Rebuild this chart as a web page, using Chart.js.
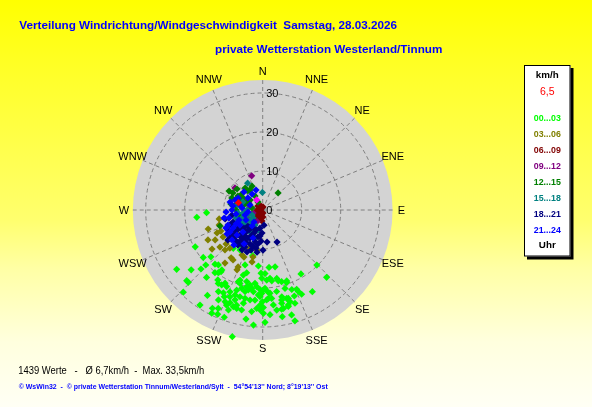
<!DOCTYPE html>
<html><head><meta charset="utf-8">
<script src="https://cdn.jsdelivr.net/npm/chart.js@4.4.1/dist/chart.umd.min.js"></script>
<style>html,body{margin:0;padding:0;background:#fff}canvas{display:block}</style>
</head><body>
<canvas id="c" width="592" height="407"></canvas>
<script>
// ---------- texts ----------
const titleText = 'Verteilung Windrichtung/Windgeschwindigkeit  Samstag, 28.03.2026';
const subtitleText = 'private Wetterstation Westerland/Tinnum';
const footerStats = '1439 Werte   -   \u00D8 6,7km/h  -  Max. 33,5km/h';
const footerCredit = '\u00A9 WsWin32  -  \u00A9 private Wetterstation Tinnum/Westerland/Sylt  -  54\u00B054\'13\'\' Nord; 8\u00B019\'13\'\' Ost';
const legendUnit = 'km/h';
const legendCurrent = '6,5';
const legendFooter = 'Uhr';

// ---------- axes ----------
const directionLabels = ['N','NNE','NE','ENE','E','ESE','SE','SSE','S','SSW','SW','WSW','W','WNW','NW','NNW'];
const ringTicks = [0, 10, 20, 30];
const outerSpeed = 33.3;

// ---------- series: [direction deg, speed km/h] ----------
const timeRanges = ['00...03','03...06','06...09','09...12','12...15','15...18','18...21','21...24'];
const rangeColors = ['#00ff00','#808000','#800000','#800080','#008000','#008080','#000080','#0000ff'];

const wind00_03 = [
[235.4,26.8],[231.4,19.5],[227.9,17.9],[221.4,18.5],[226,20.3],[218.9,18.1],[197.8,14.8],[192.4,12.0],[184.4,14.4],[173.7,14.8],
[167.7,14.9],[181.5,16.2],[177.9,16.3],[194.3,16.6],[196.6,17.4],[217.3,20.2],[215.3,19.7],[214,19.1],[226.3,21.9],[230.1,23.9],
[219.8,22.5],[212.7,21.3],[211.2,22.0],[208.7,21.9],[207.2,21.1],[205.2,21.7],[198.8,19.4],[197.2,19.7],[192.6,18.8],[189.6,19.5],
[186,18.9],[180.8,17.5],[176.7,18.0],[173.9,17.6],[172.7,18.3],[168.4,17.9],[165.2,19.0],[161.7,19.6],[159.9,21.7],[156.8,22.1],
[149.1,19.1],[135.5,19.8],[148.7,24.5],[227.1,26.6],[225.8,26.6],[208.5,23.8],[205.4,23.5],[201.8,22.6],[198,21.6],[195,20.8],
[192.2,21.4],[188,20.3],[184.5,19.7],[181.9,20.4],[179.5,20.5],[176.5,21.0],[175,21.4],[170.3,21.2],[167.6,22.8],[163.8,23.6],
[159.8,23.5],[156.4,22.8],[155.2,23.8],[224,29.3],[212.9,26.1],[206.2,25.7],[202.3,25.4],[199.4,25.2],[197.1,24.1],[194.7,23.0],
[191.3,23.1],[188,23.3],[184.9,23.2],[181.8,22.2],[180.2,23.5],[177.5,23.1],[174.2,22.8],[181.6,24.4],[179.6,25.0],[163.4,24.5],
[160.9,25.3],[168.5,24.4],[200.8,26.1],[196.9,25.9],[207.1,28.3],[204.3,27.7],[198.9,27.1],[194.8,26.1],[191.9,26.2],[186.2,26.2],
[179.6,26.5],[169.2,25.9],[164.6,27.9],[203.4,29.1],[165.1,25.6],[199.7,29.2],[188.7,28.3],[178.8,28.8],[184.6,29.6],[163.8,29.6],
[193.5,33.4],[263.7,17.0],[267.3,14.4],[241.4,19.7],[136.5,23.8],[217.5,12.4],[209.6,11.8],
[203.9,24.3],[191.8,20.1],[190.2,20.8],[186.5,21.1],[182.9,21.8],[180.7,21.4],[178.3,20.1],[167.6,18.6],[161.3,19.2],[164.1,20.9],
[168.1,23.6],[168.1,25.8],[169.6,27.8],[176,26.9],[181.5,25.6],[183.5,25.3],[191.7,24.4],[195.3,25.3],[206.3,29.5],[213.4,29.2],
[198,22.9],[200.7,23.8],[176.3,22.7],[173.6,24.5],[172,25.9],[164.8,23.5],[164.9,25.2],[214.3,18.6],[197.9,18.9]
];
const wind03_06 = [
[250.8,14.8],[251.1,11.8],[243.3,13.1],[243.3,12.0],[241.3,16.0],[237.8,14.4],[232.4,16.4],[229.1,14.5],[223.3,14.1],[227.2,12.8],
[220.7,12.9],[213.4,14.7],[215.4,16.7],[210.7,14.9],[203.2,16.7],[203.4,15.9],[204.7,12.7],[198.5,10.3],[188.1,10.4],[191.7,12.3],
[191.6,13.6],[258.4,11.4],[201.7,13.0],[235.8,12.3],[230.5,8.9]
];
const wind06_09 = [
[310.4,1.6],[337,1.1],[6,0.8],[282,1.2],[300,0.5],[247,1.3],[220,0.7],[174,0.8],[223,1.8],[199,1.4],
[178,1.8],[197,2.4],[184,2.8],[255,2.0],[220,2.7]
];
const wind09_12 = [
[342.1,9.2],[308.5,9.1],[206,3.3],[283.3,3.4],[299.5,5.2],[296,3.9],[252.8,2.6],[241.4,4.3]
];
const wind12_15 = [
[299.4,9.9],[299.8,8.8],[309.3,8.5],[304.7,6.8],[321.2,7.2],[322.3,6.2],[327.6,6.1],[336,6.7],[331.2,4.1],[329.6,2.4],
[280.7,8.3],[293.8,6.4],[285,5.0],[308.2,4.1],[270,6.8],[257.6,6.0],[263.2,4.3],[280.6,2.8],[42,5.9],[249.5,11.7],
[244.1,7.0],[231,6.5],[234.2,8.8],[299.5,7.3],[301.3,5.9],[280.6,7.0],[291.3,8.5],[292.7,4.6]
];
const wind15_18 = [
[330.7,7.9],[359,4.5],[242.1,6.6],[229.7,5.9],[231.8,4.1],[207.2,4.3],[193.2,5.3],[253.3,7.1],[245,3.0],[270,4.0],
[261.3,5.1],[240.9,8.4],[210,6.5],[195.4,7.4],[213.7,8.6],[281.4,6.5],[248.9,5.7],[252.3,4.2],[224.3,4.3],[235.9,5.5],
[263.1,6.4],[230.5,3.2],[218.9,5.6],[292.1,5.5]
];
const wind18_21 = [
[256.6,9.9],[245.4,9.2],[234.4,9.7],[222.7,10.5],[215.2,11.0],[207.4,11.5],[205.6,10.5],[200.5,9.3],[193.5,8.4],[189.9,7.0],
[183.1,8.0],[179.6,10.3],[172.3,8.3],[155.9,9.0],[207.7,8.1],[213.3,9.2],[222.2,8.7],[232.1,8.4],[217.2,7.1],[203.2,7.0],
[198.5,5.4],[188.5,4.7],[226.1,6.7],[222.6,5.6],[208.3,5.2],[225.8,9.6],[216.5,10.2],[196.3,10.7],[190,9.9],[229.4,11.0],
[248,8.2],[200.5,11.5],[187.7,10.9],[181.7,5.9],[175,3.9],[231.6,7.4],[260.7,8.0],[240,10.3],
[220.7,10.5],[218.8,8.9],[207.6,9.3],[204.4,7.9],[200.7,6.3],[214.4,6.2],[214.2,8.1],[237.1,7.5],[229.7,10.3],[229.2,11.8],
[187.9,8.8],[195.1,9.6],[185.9,6.7],[210.6,10.4],[232.5,9.3]
];
const wind21_24 = [
[258.3,10.1],[283.7,8.6],[277.7,7.7],[246.6,9.7],[236.1,10.1],[225.7,11.0],[236.1,11.0],[247.1,6.6],[254.2,4.7],[291.5,3.5],
[326.2,4.9],[341.5,5.4],[309.2,4.9],[275.5,5.3],[261.5,6.9],[236.5,7.0],[239.1,5.0],[216,3.8],[295.9,7.0],[313.9,6.7],
[219.4,11.6],[208.8,9.9],[199.1,7.6],[242.3,7.7],[266.9,9.4],[256.6,8.9],[243.9,10.5],[270,7.9],[289.9,7.5],[282.4,6.0],
[225.8,9.2],[262.3,3.8],[221.8,7.6],[213.8,4.9],[238.8,8.9]
];
const currentValue = [[286.7,6.5]];
const highlightValues = [[329,3.0]];

const seriesList = [wind00_03, wind03_06, wind06_09, wind09_12, wind12_15, wind15_18, wind18_21, wind21_24];

function toXY(list){
  return list.map(([dir, spd]) => ({
    x: spd * Math.sin(dir * Math.PI / 180),
    y: spd * Math.cos(dir * Math.PI / 180)
  }));
}

const FONT = '"Liberation Sans", Arial, sans-serif';

function txt(ctx, s, x, y, font, color, align, base, maxW){
  ctx.save();
  ctx.font = font;
  ctx.fillStyle = color;
  ctx.textAlign = align || 'left';
  ctx.textBaseline = base || 'alphabetic';
  if (maxW) ctx.fillText(s, x, y, maxW); else ctx.fillText(s, x, y);
  ctx.restore();
}

const windroseDecor = {
  id: 'windroseDecor',
  beforeDraw(chart){
    const ctx = chart.ctx, w = chart.width, h = chart.height;
    ctx.save();
    const g = ctx.createLinearGradient(0, 0, 0, h);
    g.addColorStop(0, 'rgb(255,255,0)');
    g.addColorStop(0.15, 'rgb(255,255,35)');
    g.addColorStop(0.54, 'rgb(255,255,110)');
    g.addColorStop(0.66, 'rgb(255,255,165)');
    g.addColorStop(0.84, 'rgb(255,255,222)');
    g.addColorStop(1, 'rgb(255,255,245)');
    ctx.fillStyle = g;
    ctx.fillRect(0, 0, w, h);
    ctx.restore();

    txt(ctx, titleText, 19.3, 29.3, 'bold 11.7px ' + FONT, '#0000ff', 'left', 'alphabetic', 380);
    txt(ctx, subtitleText, 215, 53.3, 'bold 11.7px ' + FONT, '#0000ff', 'left', 'alphabetic', 229);
    txt(ctx, footerStats, 18.3, 373.5, '10.6px ' + FONT, '#000000', 'left', 'alphabetic', 186);
    txt(ctx, footerCredit, 18.7, 388.6, 'bold 7.8px ' + FONT, '#0000ff', 'left', 'alphabetic', 309);

    // legend box
    ctx.save();
    ctx.fillStyle = '#000000';
    ctx.fillRect(527, 68, 46.5, 191.5);
    ctx.fillStyle = '#ffffff';
    ctx.fillRect(524, 65, 46.5, 191.5);
    ctx.strokeStyle = '#000000';
    ctx.lineWidth = 1;
    ctx.strokeRect(524.5, 65.5, 45.5, 190.5);
    ctx.restore();
    const lx = 547.3;
    txt(ctx, legendUnit, lx, 75.3, 'bold 9.8px ' + FONT, '#000000', 'center', 'middle');
    txt(ctx, legendCurrent, lx, 91.8, '10.5px ' + FONT, '#ff0000', 'center', 'middle');
    timeRanges.forEach((t, i) => {
      txt(ctx, t, lx, 118.4 + i * 15.95, 'bold 9.6px ' + FONT, rangeColors[i], 'center', 'middle', 27);
    });
    txt(ctx, legendFooter, lx, 245.3, 'bold 9.8px ' + FONT, '#000000', 'center', 'middle');
  },
  beforeDatasetsDraw(chart){
    const ctx = chart.ctx;
    const xs = chart.scales.x, ys = chart.scales.y;
    const cx = xs.getPixelForValue(0), cy = ys.getPixelForValue(0);
    const u = xs.getPixelForValue(1) - cx;
    const R = outerSpeed * u;
    ctx.save();
    ctx.fillStyle = '#d3d3d3';
    ctx.beginPath();
    ctx.arc(cx, cy, R, 0, Math.PI * 2);
    ctx.fill();
    ctx.strokeStyle = '#808080';
    ctx.lineWidth = 1;
    ctx.setLineDash([4, 3]);
    ringTicks.forEach(t => {
      if (t <= 0) return;
      ctx.beginPath();
      ctx.arc(cx, cy, t * u, 0, Math.PI * 2);
      ctx.stroke();
    });
    directionLabels.forEach((lab, i) => {
      const a = i * 22.5 * Math.PI / 180;
      ctx.beginPath();
      ctx.moveTo(cx, cy);
      ctx.lineTo(cx + R * Math.sin(a), cy - R * Math.cos(a));
      ctx.stroke();
    });
    ctx.setLineDash([]);
    ctx.restore();

    ringTicks.forEach(t => {
      txt(ctx, String(t), cx + 3.5, cy - t * u + 0.5, '11px ' + FONT, '#000000', 'left', 'middle');
    });
    const LR = 36.1 * u;
    directionLabels.forEach((lab, i) => {
      const a = i * 22.5 * Math.PI / 180;
      const k = (i % 4 === 0) ? 0.985 : 1;
      txt(ctx, lab, cx + LR * k * Math.sin(a), cy - LR * k * Math.cos(a) + 0.5, '11px ' + FONT, '#000000', 'center', 'middle');
    });
  }
};

const datasets = seriesList.map((s, i) => ({
  label: timeRanges[i],
  data: toXY(s),
  backgroundColor: rangeColors[i],
  borderColor: rangeColors[i],
  order: 10 - i
}));
datasets.push({ label: 'aktuell', data: toXY(currentValue), backgroundColor: '#ff0000', borderColor: '#ff0000', order: 0 });
datasets.push({ label: 'markiert', data: toXY(highlightValues), backgroundColor: '#ff00ff', borderColor: '#ff00ff', order: 1 });

new Chart(document.getElementById('c'), {
  type: 'scatter',
  data: { datasets },
  options: {
    responsive: false,
    animation: false,
    events: [],
    devicePixelRatio: 1,
    layout: { padding: { left: 132.7, right: 199.3, top: 80, bottom: 67 } },
    scales: {
      x: { type: 'linear', min: -33.33, max: 33.33, display: false },
      y: { type: 'linear', min: -33.33, max: 33.33, display: false }
    },
    elements: { point: { pointStyle: 'rectRot', radius: 3.6, hoverRadius: 3.6, borderWidth: 0 } },
    datasets: { scatter: { clip: false } },
    plugins: { legend: { display: false }, tooltip: { enabled: false }, title: { display: false } }
  },
  plugins: [windroseDecor]
});
</script>
</body></html>
